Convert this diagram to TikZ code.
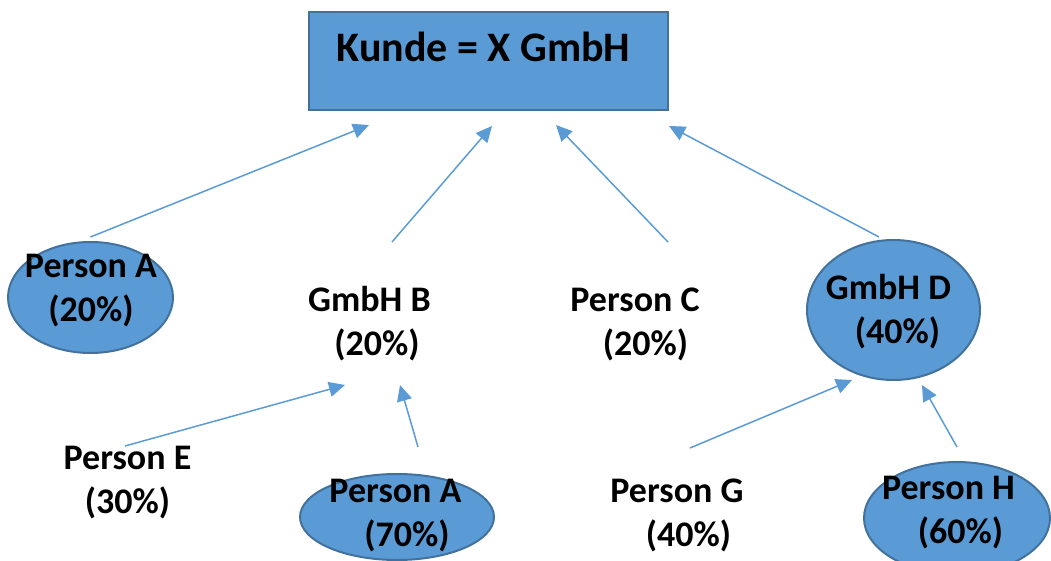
\documentclass[tikz,border=0pt]{standalone}
\usepackage{fontspec}
\setmainfont{Carlito}
\usetikzlibrary{arrows.meta,shapes.geometric}
\definecolor{officeblue}{HTML}{5B9BD5}
\definecolor{officeline}{HTML}{41719C}

\begin{document}
\begin{tikzpicture}[x=0.5pt,y=-0.5pt,
    blob/.style={ellipse,draw=officeline,fill=officeblue,line width=1pt,inner sep=0pt},
    share/.style={align=center,anchor=base,inner sep=0pt,font=\bfseries\fontsize{18}{22}\selectfont},
    arr/.style={draw=officeblue,line width=0.75pt,-{Triangle[length=8pt,width=7.5pt]}}]
    \path[use as bounding box,clip] (0,0) rectangle (1051,561);
    % Kunde
    \node[draw=officeline,fill=officeblue,line width=1pt,minimum width=179.5pt,minimum height=49pt] (kunde) at (488.5,61) {};
    \node[anchor=base,inner sep=0pt,font=\bfseries\fontsize{21}{25}\selectfont] (kundetext) at (483.5,62) {Kunde = X GmbH};
    % ellipses
    \node[blob,minimum width=82.5pt,minimum height=55.5pt] (pA1e) at (90.5,297.5) {};
    \node[blob,minimum width=86.5pt,minimum height=70pt] (gDe) at (893.5,310) {};
    \node[blob,minimum width=97pt,minimum height=43pt] (pA2e) at (397,517) {};
    \node[blob,minimum width=93pt,minimum height=56pt] (pHe) at (957,518) {};
    % first level (base = last line)
    \node[share] (pA1) at (91,322) {Person A\\(20\%)};
    \node[share] (gB) at (369.5,356) {GmbH B\\\hspace*{7.5pt}(20\%)};
    \node[share] (pC) at (635,356) {Person C\\\hspace*{10.5pt}(20\%)};
    \node[share] (gD) at (888.5,344) {GmbH D\\\hspace*{9pt}(40\%)};
    % second level
    \node[share] (pE) at (127.5,514) {Person E\\(30\%)};
    \node[share] (pA2) at (395.5,546) {Person A\\\hspace*{11.5pt}(70\%)};
    \node[share] (pG) at (677,546) {Person G\\\hspace*{11.5pt}(40\%)};
    \node[share] (pH) at (948.5,544) {Person H\\\hspace*{12pt}(60\%)};
    % arrow ends
    \coordinate (k1) at ([shift={(61,14)}]kunde.south west);
    \coordinate (k2) at ([shift={(184,15)}]kunde.south west);
    \coordinate (k3) at ([shift={(248,14)}]kunde.south west);
    \coordinate (k4) at ([shift={(0,15)}]kunde.south east);
    \coordinate (b1) at ([shift={(22.5,-114)}]gB.base);
    \coordinate (c1) at ([shift={(33,-114)}]pC.base);
    \coordinate (d1) at ([shift={(-14.5,-2)}]gDe.north);
    \coordinate (e1) at ([shift={(-2.5,-68)}]pE.base);
    \coordinate (a2) at ([shift={(21,-26)}]pA2e.north);
    \coordinate (g1) at ([shift={(13,-98)}]pG.base);
    \coordinate (h1) at ([shift={(0,-14)}]pHe.north);
    \coordinate (b2) at ([shift={(-24.5,29)}]gB.base);
    \coordinate (b3) at ([shift={(30.5,29)}]gB.base);
    \coordinate (d2) at ([shift={(-41.5,70)}]gDe.center);
    \coordinate (d3) at ([shift={(28.5,75)}]gDe.center);
    % arrows
    \draw[arr] ([yshift=2]pA1e.north) -- (k1);
    \draw[arr] (b1) -- (k2);
    \draw[arr] (c1) -- (k3);
    \draw[arr] (d1) -- (k4);
    \draw[arr] (e1) -- (b2);
    \draw[arr] (a2) -- (b3);
    \draw[arr] (g1) -- (d2);
    \draw[arr] (h1) -- (d3);
\end{tikzpicture}
\end{document}
